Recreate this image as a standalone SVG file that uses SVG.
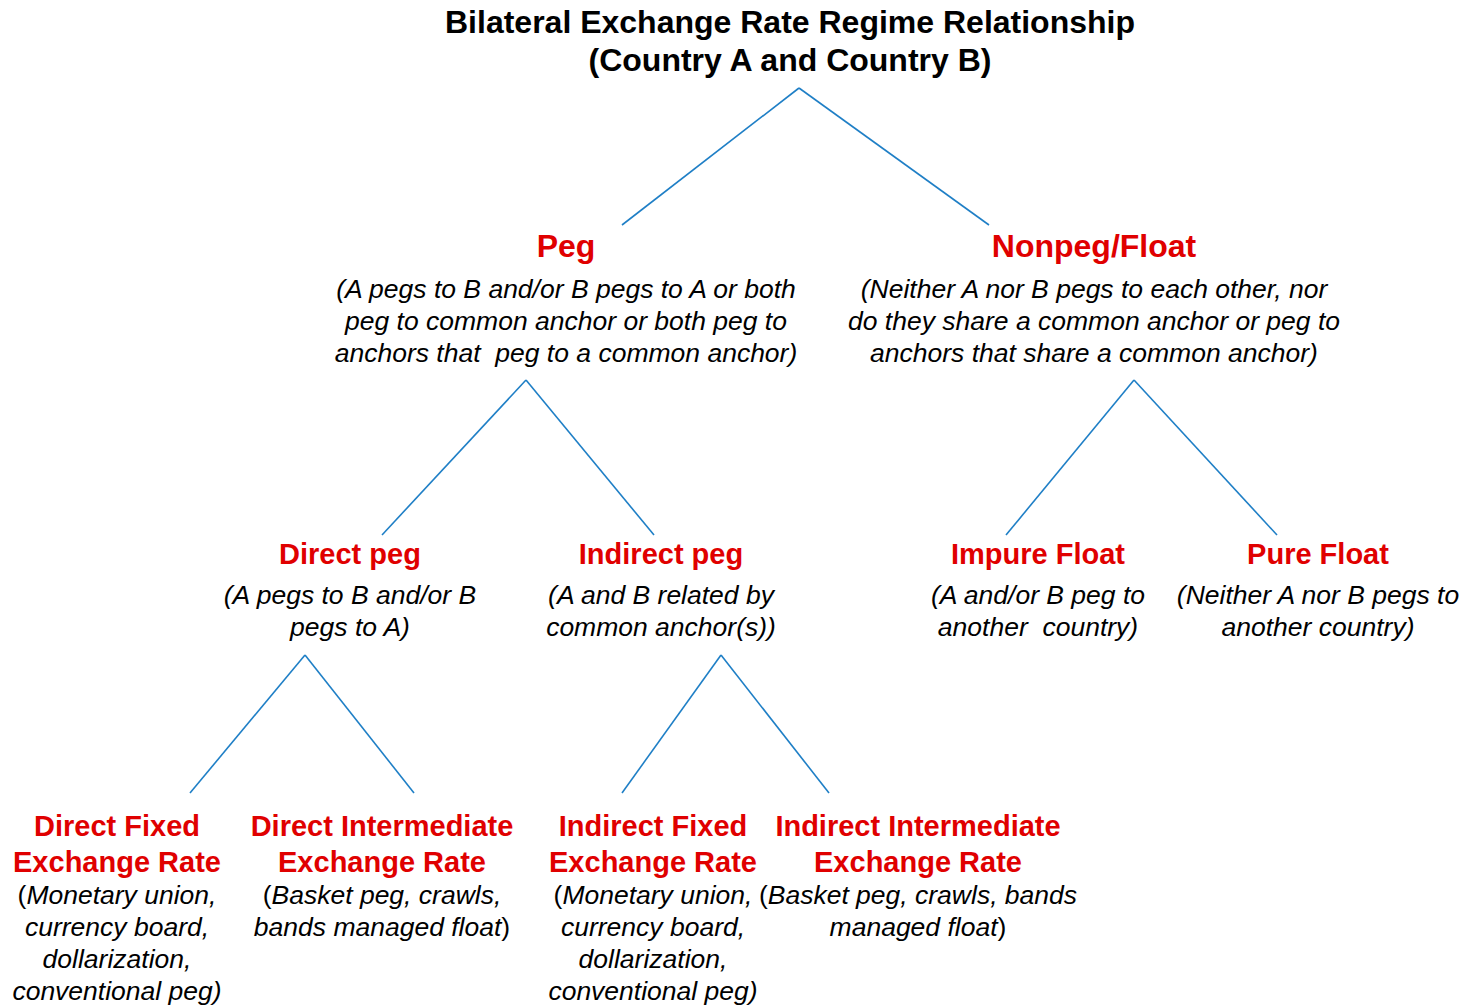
<svg xmlns="http://www.w3.org/2000/svg" width="1470" height="1005" viewBox="0 0 1470 1005">
  <style>
    text { font-family: "Liberation Sans", Arial, sans-serif; text-anchor: middle; }
    .title { font-size: 32px; font-weight: bold; fill: #000; }
    .head { font-size: 29px; font-weight: bold; fill: #e00000; }
    .big { font-size: 32px; }
    .desc { font-size: 26.5px; font-style: italic; fill: #000; }
    .up { font-style: normal; }
    .link { stroke: #1f7fc6; stroke-width: 1.6; fill: none; }
  </style>

  <g id="root">
    <text class="title" x="790" y="33">Bilateral Exchange Rate Regime Relationship</text>
    <text class="title" x="790" y="71">(Country A and Country B)</text>
  </g>

  <g id="connectors">
    <line class="link" x1="799" y1="88" x2="622" y2="225"/>
    <line class="link" x1="799" y1="88" x2="989" y2="225"/>
    <line class="link" x1="526" y1="380" x2="382" y2="535"/>
    <line class="link" x1="526" y1="380" x2="654" y2="535"/>
    <line class="link" x1="1134" y1="380" x2="1006" y2="535"/>
    <line class="link" x1="1134" y1="380" x2="1277" y2="535"/>
    <line class="link" x1="305" y1="655" x2="190" y2="793"/>
    <line class="link" x1="305" y1="655" x2="414" y2="793"/>
    <line class="link" x1="721" y1="655" x2="622" y2="793"/>
    <line class="link" x1="721" y1="655" x2="829" y2="793"/>
  </g>

  <g id="peg">
    <text class="head big" x="566" y="257">Peg</text>
    <text class="desc" x="566" y="298">(A pegs to B and/or B pegs to A or both</text>
    <text class="desc" x="566" y="330">peg to common anchor or both peg to</text>
    <text class="desc" x="566" y="362" xml:space="preserve">anchors that  peg to a common anchor)</text>
  </g>

  <g id="nonpeg">
    <text class="head big" x="1094" y="257">Nonpeg/Float</text>
    <text class="desc" x="1094" y="298">(Neither A nor B pegs to each other, nor</text>
    <text class="desc" x="1094" y="330">do they share a common anchor or peg to</text>
    <text class="desc" x="1094" y="362">anchors that share a common anchor)</text>
  </g>

  <g id="direct-peg">
    <text class="head" x="350" y="564">Direct peg</text>
    <text class="desc" x="350" y="604">(A pegs to B and/or B</text>
    <text class="desc" x="350" y="636">pegs to A)</text>
  </g>

  <g id="indirect-peg">
    <text class="head" x="661" y="564">Indirect peg</text>
    <text class="desc" x="661" y="604">(A and B related by</text>
    <text class="desc" x="661" y="636">common anchor(s))</text>
  </g>

  <g id="impure-float">
    <text class="head" x="1038" y="564">Impure Float</text>
    <text class="desc" x="1038" y="604">(A and/or B peg to</text>
    <text class="desc" x="1038" y="636" xml:space="preserve">another  country)</text>
  </g>

  <g id="pure-float">
    <text class="head" x="1318" y="564">Pure Float</text>
    <text class="desc" x="1318" y="604">(Neither A nor B pegs to</text>
    <text class="desc" x="1318" y="636">another country)</text>
  </g>

  <g id="direct-fixed">
    <text class="head" x="117" y="836">Direct Fixed</text>
    <text class="head" x="117" y="872">Exchange Rate</text>
    <text class="desc" x="117" y="904"><tspan class="up">(</tspan>Monetary union,</text>
    <text class="desc" x="117" y="936">currency board,</text>
    <text class="desc" x="117" y="968">dollarization,</text>
    <text class="desc" x="117" y="1000">conventional peg)</text>
  </g>

  <g id="direct-intermediate">
    <text class="head" x="382" y="836">Direct Intermediate</text>
    <text class="head" x="382" y="872">Exchange Rate</text>
    <text class="desc" x="382" y="904"><tspan class="up">(</tspan>Basket peg, crawls,</text>
    <text class="desc" x="382" y="936">bands managed float<tspan class="up">)</tspan></text>
  </g>

  <g id="indirect-fixed">
    <text class="head" x="653" y="836">Indirect Fixed</text>
    <text class="head" x="653" y="872">Exchange Rate</text>
    <text class="desc" x="653" y="904"><tspan class="up">(</tspan>Monetary union,</text>
    <text class="desc" x="653" y="936">currency board,</text>
    <text class="desc" x="653" y="968">dollarization,</text>
    <text class="desc" x="653" y="1000">conventional peg)</text>
  </g>

  <g id="indirect-intermediate">
    <text class="head" x="918" y="836">Indirect Intermediate</text>
    <text class="head" x="918" y="872">Exchange Rate</text>
    <text class="desc" x="918" y="904"><tspan class="up">(</tspan>Basket peg, crawls, bands</text>
    <text class="desc" x="918" y="936">managed float<tspan class="up">)</tspan></text>
  </g>
</svg>
